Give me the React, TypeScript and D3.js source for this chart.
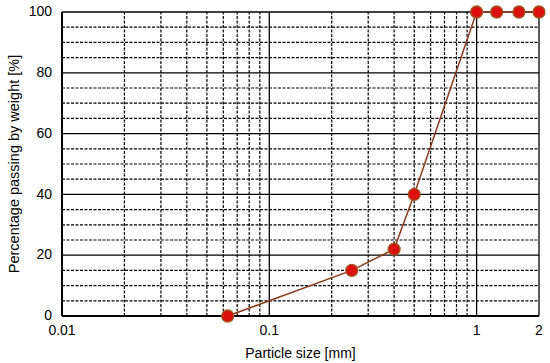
import React from 'react'
import * as d3 from 'd3'

// sieve data
const sizes = [0.063, 0.25, 0.4, 0.5, 1, 1.25, 1.6, 2]
const passing = [0, 15, 22, 40, 100, 100, 100, 100]
const xTickLabels = [0.01, 0.1, 1, 2]
const yTickLabels = [0, 20, 40, 60, 80, 100]

const width = 550
const height = 363
const margin = { top: 12, right: 11, bottom: 47, left: 62 }

const App = () => {
  const x = d3.scaleLog().domain([0.01, 2]).range([margin.left, width - margin.right])
  const y = d3.scaleLinear().domain([0, 100]).range([height - margin.bottom, margin.top])

  // minor vertical grid: 2..9 of each decade
  const minorX: number[] = []
  ;[0.01, 0.1].forEach((d) => {
    for (let k = 2; k <= 9; k++) minorX.push(d * k)
  })
  const majorX = [0.1, 1]
  const minorY = d3.range(5, 100, 5).filter((v) => v % 20 !== 0)
  const majorY = [20, 40, 60, 80, 100]

  const line = d3.line<number>()
    .x((d, i) => x(sizes[i]))
    .y((d) => y(d))

  const font = 'Liberation Sans, Arial, sans-serif'

  return (
    <svg width={width} height={height} style={{ position: 'absolute', left: 0, top: 0 }} fontFamily={font}>
      <rect width={width} height={height} fill="#fff" />
      <g>
        {minorY.map((v) => (
          <line key={'my' + v} x1={x(0.01)} x2={x(2)} y1={y(v)} y2={y(v)} stroke="#000" strokeWidth={1.2} strokeDasharray="3,1.5" />
        ))}
        {minorX.map((v) => (
          <line key={'mx' + v} x1={x(v)} x2={x(v)} y1={y(0)} y2={y(100)} stroke="#000" strokeWidth={1.2} strokeDasharray="3,1.5" />
        ))}
        {majorY.map((v) => (
          <line key={'My' + v} x1={x(0.01)} x2={x(2)} y1={y(v)} y2={y(v)} stroke="#000" strokeWidth={1.3} />
        ))}
        {majorX.map((v) => (
          <line key={'Mx' + v} x1={x(v)} x2={x(v)} y1={y(0)} y2={y(100)} stroke="#000" strokeWidth={1.3} />
        ))}
        <line x1={x(2)} x2={x(2)} y1={y(0)} y2={y(100)} stroke="#000" strokeWidth={1.3} />
        <line x1={x(0.01)} x2={x(0.01)} y1={y(0)} y2={y(100)} stroke="#000" strokeWidth={2} />
        <line x1={x(0.01)} x2={x(2)} y1={y(0)} y2={y(0)} stroke="#000" strokeWidth={2} />
      </g>

      <path d={line(passing) || ''} fill="none" stroke="#8b3a1a" strokeWidth={1.5} />
      {passing.map((v, i) => (
        <circle key={i} cx={x(sizes[i])} cy={y(v)} r={6} fill="#dd1010" stroke="#9a5a20" strokeWidth={1.3} />
      ))}

      <g fontSize={14} fill="#000">
        {yTickLabels.map((v) => (
          <text key={v} x={margin.left - 10} y={y(v)} dy="0.3em" textAnchor="end">{v}</text>
        ))}
        {xTickLabels.map((v) => (
          <text key={v} x={x(v)} y={y(0) + 19} textAnchor="middle">{v}</text>
        ))}
      </g>
      <text x={x(Math.sqrt(0.01 * 2))} y={height - 5} textAnchor="middle" fontSize={14}>Particle size [mm]</text>
      <text transform={`translate(19, ${(y(0) + y(100)) / 2}) rotate(-90)`} textAnchor="middle" fontSize={14.5}>
        Percentage passing by weight [%]
      </text>
    </svg>
  )
}

export default App
